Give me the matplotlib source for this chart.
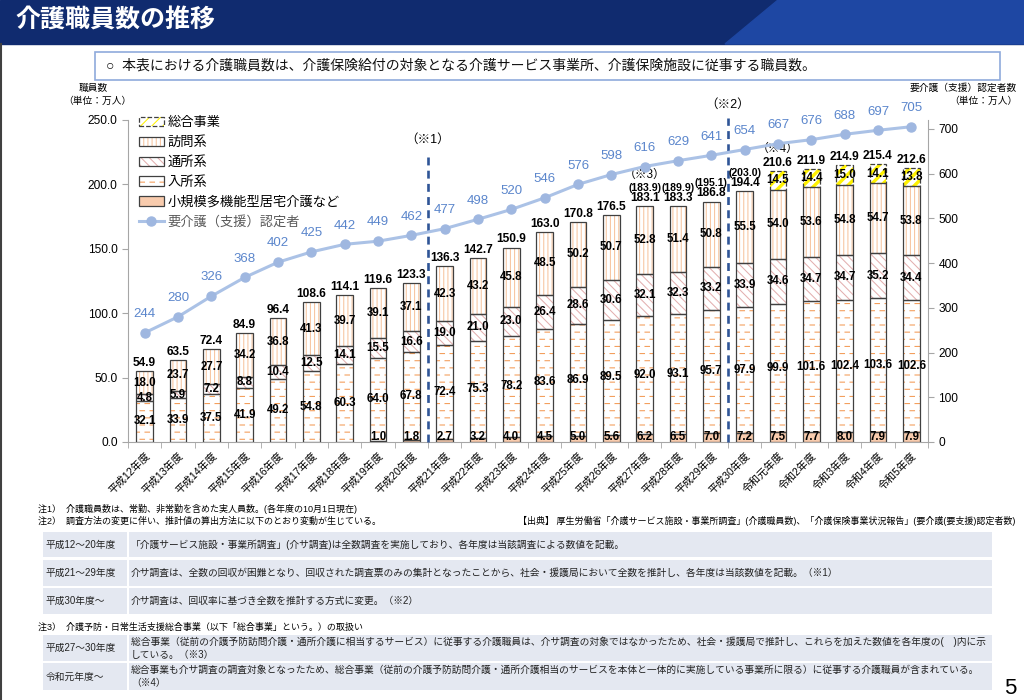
import warnings
import numpy as np
import matplotlib
matplotlib.use('Agg')
import matplotlib.pyplot as plt
import matplotlib.hatch as mhatch
from matplotlib.path import Path
from matplotlib.patches import Rectangle, Patch, Polygon
from matplotlib.lines import Line2D
from matplotlib.ticker import FormatStrFormatter

warnings.filterwarnings('ignore')

# ---- data -------------------------------------------------------------
years = ['平成12年度', '平成13年度', '平成14年度', '平成15年度', '平成16年度',
         '平成17年度', '平成18年度', '平成19年度', '平成20年度', '平成21年度',
         '平成22年度', '平成23年度', '平成24年度', '平成25年度', '平成26年度',
         '平成27年度', '平成28年度', '平成29年度', '平成30年度', '令和元年度',
         '令和2年度', '令和3年度', '令和4年度', '令和5年度']
small = [0, 0, 0, 0, 0, 0, 0, 1.0, 1.8, 2.7, 3.2, 4.0, 4.5, 5.0, 5.6, 6.2,
         6.5, 7.0, 7.2, 7.5, 7.7, 8.0, 7.9, 7.9]
nyusho = [32.1, 33.9, 37.5, 41.9, 49.2, 54.8, 60.3, 64.0, 67.8, 72.4, 75.3,
          78.2, 83.6, 86.9, 89.5, 92.0, 93.1, 95.7, 97.9, 99.9, 101.6, 102.4,
          103.6, 102.6]
tsusho = [4.8, 5.9, 7.2, 8.8, 10.4, 12.5, 14.1, 15.5, 16.6, 19.0, 21.0, 23.0,
          26.4, 28.6, 30.6, 32.1, 32.3, 33.2, 33.9, 34.6, 34.7, 34.7, 35.2, 34.4]
homon = [18.0, 23.7, 27.7, 34.2, 36.8, 41.3, 39.7, 39.1, 37.1, 42.3, 43.2,
         45.8, 48.5, 50.2, 50.7, 52.8, 51.4, 50.8, 55.5, 54.0, 53.6, 54.8,
         54.7, 53.8]
sogo = [0] * 19 + [14.5, 14.4, 15.0, 14.1, 13.8]
totals = [54.9, 63.5, 72.4, 84.9, 96.4, 108.6, 114.1, 119.6, 123.3, 136.3,
          142.7, 150.9, 163.0, 170.8, 176.5, 183.1, 183.3, 186.8, 194.4, 210.6,
          211.9, 214.9, 215.4, 212.6]
# totals incl. 総合事業 (平成27~30年度)
paren_idx = [15, 16, 17, 18]
paren_vals = ['(183.9)', '(189.9)', '(195.1)', '(203.0)']
ninteisha = [244, 280, 326, 368, 402, 425, 442, 449, 462, 477, 498, 520, 546,
             576, 598, 616, 629, 641, 654, 667, 676, 688, 697, 705]


# ---- custom hatch: staggered short dashes (入所系) -------------------------
class DashHatch(mhatch.HatchPatternBase):
    def __init__(self, hatch, density):
        self.rows = 14 if '_' in hatch else 0
        self.cols = 10
        self.num_vertices = self.rows * self.cols * 2

    def set_vertices_and_codes(self, vertices, codes):
        k = 0
        for r in range(self.rows):
            y = (r + 0.5) / self.rows
            shift = 0.5 if r % 2 else 0.0
            for c in range(self.cols):
                x0 = (c + shift) / self.cols
                vertices[k] = (x0, y)
                vertices[k + 1] = (x0 + 0.45 / self.cols, y)
                codes[k] = Path.MOVETO
                codes[k + 1] = Path.LINETO
                k += 2


mhatch._hatch_types.append(DashHatch)

plt.rcParams['font.family'] = ['Liberation Sans', 'Noto Sans CJK JP', 'DejaVu Sans']
plt.rcParams['hatch.linewidth'] = 0.75

W, H = 1024, 700
fig = plt.figure(figsize=(10.24, 7.0), dpi=100)


def fx(px):
    return px / W


def fy(py):
    return 1 - py / H


# ---- header / frame ---------------------------------------------------
fig.patches.append(Rectangle((0, fy(44)), 1, 44 / H, transform=fig.transFigure,
                             color='#102B6F', zorder=0))
fig.patches.append(Polygon([(fx(725), fy(44)), (fx(778), fy(0)), (1, 1), (1, fy(44))],
                           closed=True, transform=fig.transFigure,
                           color='#1E47A3', zorder=0))
fig.text(fx(15), fy(21), '介護職員数の推移', color='white', fontsize=18,
         fontweight='bold', ha='left', va='center')
fig.lines.append(Line2D([fx(1), fx(1)], [fy(44), 0], transform=fig.transFigure,
                        color='#404040', lw=1.5))
fig.patches.append(Rectangle((fx(95), fy(80)), fx(1000) - fx(95), 28 / H,
                             transform=fig.transFigure, fill=False,
                             edgecolor='#8FAADC', lw=1.2))
fig.text(fx(106), fy(66), '○  本表における介護職員数は、介護保険給付の対象となる介護サービス事業所、介護保険施設に従事する職員数。',
         fontsize=10, ha='left', va='center', color='#111111')

# ---- axes -------------------------------------------------------------
ax = fig.add_axes([fx(128), fy(442), 800 / W, 322 / H])
ax2 = ax.twinx()
n = len(years)
x = np.arange(n)
w = 0.5
edge = '#404040'

small_a = np.array(small)
nyu_a = np.array(nyusho)
tsu_a = np.array(tsusho)
hom_a = np.array(homon)
sog_a = np.array(sogo)

layers = [
    (small_a, '#F8CBAD', None, '#F8CBAD', '-'),
    (nyu_a, 'white', '_', '#F39A55', '-'),
    (tsu_a, 'white', '\\\\\\\\', '#E3AFAF', '-'),
    (hom_a, 'white', '||||', '#F7C49E', '-'),
    (sog_a, 'white', '///', '#FFF200', '--'),
]

bottom = np.zeros(n)
for vals, fc, hatch, hc, ls in layers:
    m = vals > 0
    hb = ax.bar(x[m], vals[m], w, bottom=bottom[m], color=fc, hatch=hatch,
                edgecolor=hc, linewidth=0, zorder=2)
    if hatch == '///':
        for p in hb:
            if hasattr(p, 'set_hatch_linewidth'):
                p.set_hatch_linewidth(2.4)
    ax.bar(x[m], vals[m], w, bottom=bottom[m], fill=False, edgecolor=edge,
           linewidth=0.9, linestyle=ls, zorder=3)
    bottom = bottom + vals

# segment labels
seg_font = dict(fontsize=8.3, fontweight='bold', ha='center', va='center',
                color='black', zorder=6)
base = np.zeros(n)
for vals in [small_a, nyu_a, tsu_a, hom_a, sog_a]:
    for i in range(n):
        if vals[i] > 0:
            yy = 3.8 if vals is small_a else base[i] + vals[i] / 2
            ax.text(x[i], yy, f'{vals[i]:.1f}', **seg_font)
    base = base + vals

# total labels
for i in range(n):
    ax.annotate(f'{totals[i]:.1f}', (x[i], bottom[i]), xytext=(0, 1.5),
                textcoords='offset points', ha='center', va='bottom',
                fontsize=8.6, fontweight='bold', zorder=6)
for i, s in zip(paren_idx, paren_vals):
    ax.annotate(s, (x[i], bottom[i]), xytext=(0, 9.5),
                textcoords='offset points', ha='center', va='bottom',
                fontsize=7.6, fontweight='bold', zorder=6)
ax.annotate('（※3）', (x[15], bottom[15]), xytext=(0, 18),
            textcoords='offset points', ha='center', va='bottom', fontsize=8.5)
ax.annotate('（※4）', (x[19], bottom[19]), xytext=(0, 11.5),
            textcoords='offset points', ha='center', va='bottom', fontsize=8.5)

# survey method change lines
ax.vlines(8.5, 0, 224, colors='#2F5597', linestyles=(0, (3, 2)), lw=1.9,
          clip_on=False, zorder=5)
ax.vlines(17.5, 0, 251.5, colors='#2F5597', linestyles=(0, (3, 2)), lw=1.9,
          clip_on=False, zorder=5)
ax.text(8.5, 234.5, '（※1）', ha='center', va='center', fontsize=9)
ax.text(17.5, 262, '（※2）', ha='center', va='center', fontsize=9)

ax.set_xlim(-0.5, n - 0.5)
ax.set_ylim(0, 250)
ax.set_yticks(np.arange(0, 251, 50))
ax.yaxis.set_major_formatter(FormatStrFormatter('%.1f'))
ax.set_xticks(x)
ax.set_xticklabels(years, rotation=45, ha='right', rotation_mode='anchor',
                   fontsize=7.6)
ax.set_xticks(np.arange(-0.5, n, 1), minor=True)
ax.tick_params(axis='x', which='major', length=0, pad=6)
ax.tick_params(axis='x', which='minor', length=4, color='#A6A6A6')
ax.tick_params(axis='y', length=4, color='#A6A6A6', labelsize=8.6)
for s in ['top', 'right']:
    ax.spines[s].set_visible(False)
for s in ['left', 'bottom']:
    ax.spines[s].set_color('#A6A6A6')

# ---- 要介護（支援）認定者 line ------------------------------------------------
ax2.plot(x, ninteisha, color='#ABC2E6', lw=2.2, marker='o', ms=6.5,
         mfc='#9FB7E0', mec='#9FB7E0', zorder=4)
for i in range(n):
    ax2.annotate(str(ninteisha[i]), (x[i], ninteisha[i]), xytext=(0, 13.5),
                 textcoords='offset points', ha='center', va='center',
                 fontsize=9.5, color='#5B86CC')
ax2.set_ylim(0, 720)
ax2.set_yticks(np.arange(0, 701, 100))
ax2.tick_params(axis='y', length=4, color='#A6A6A6', labelsize=8.6)
for s in ['top', 'left', 'bottom']:
    ax2.spines[s].set_visible(False)
ax2.spines['right'].set_color('#A6A6A6')

# legend
handles = [
    (Patch(facecolor='white', edgecolor='#FFF200', hatch='///', lw=0),
     Patch(fill=False, edgecolor=edge, lw=0.9, ls='--')),
    (Patch(facecolor='white', edgecolor='#F7C49E', hatch='||||', lw=0),
     Patch(fill=False, edgecolor=edge, lw=0.9)),
    (Patch(facecolor='white', edgecolor='#E3AFAF', hatch='\\\\\\\\', lw=0),
     Patch(fill=False, edgecolor=edge, lw=0.9)),
    (Patch(facecolor='white', edgecolor='#F39A55', hatch='_', lw=0),
     Patch(fill=False, edgecolor=edge, lw=0.9)),
    Patch(facecolor='#F8CBAD', edgecolor=edge, lw=0.9),
    Line2D([0], [0], color='#ABC2E6', lw=2.2, marker='o', ms=6.5,
           mfc='#9FB7E0', mec='#9FB7E0'),
]
labels = ['総合事業', '訪問系', '通所系', '入所系', '小規模多機能型居宅介護など',
          '要介護（支援）認定者']
leg = ax2.legend(handles, labels, loc='upper left',
                 bbox_to_anchor=(fx(132), fy(110)), bbox_transform=fig.transFigure,
                 frameon=False, fontsize=9.5, handlelength=1.9, handleheight=0.75,
                 handletextpad=0.3, labelspacing=0.55, borderpad=0)
leg.get_texts()[-1].set_color('#595959')

# axis titles
fig.text(fx(93), fy(88), '職員数', ha='center', va='center', fontsize=7)
fig.text(fx(97), fy(101), '（単位：万人）', ha='center', va='center', fontsize=7)
fig.text(fx(1017), fy(88), '要介護（支援）認定者数', ha='right', va='center', fontsize=7)
fig.text(fx(1017), fy(101), '（単位：万人）', ha='right', va='center', fontsize=7)

# ---- notes ------------------------------------------------------------
note_fs = 6.5
fig.text(fx(38), fy(509), '注1）  介護職員数は、常勤、非常勤を含めた実人員数。(各年度の10月1日現在)',
         fontsize=note_fs, va='center')
fig.text(fx(38), fy(521), '注2）  調査方法の変更に伴い、推計値の算出方法に以下のとおり変動が生じている。',
         fontsize=note_fs, va='center')
fig.text(fx(1015), fy(521),
         '【出典】 厚生労働省「介護サービス施設・事業所調査」(介護職員数)、「介護保険事業状況報告」(要介護(要支援)認定者数)',
         fontsize=note_fs, ha='right', va='center')
fig.text(fx(38), fy(627), '注3）  介護予防・日常生活支援総合事業（以下「総合事業」という。）の取扱い',
         fontsize=note_fs, va='center')

rows = [
    (532, 557, '平成12～20年度',
     '「介護サービス施設・事業所調査」(介サ調査)は全数調査を実施しており、各年度は当該調査による数値を記載。'),
    (560, 586, '平成21～29年度',
     '介サ調査は、全数の回収が困難となり、回収された調査票のみの集計となったことから、社会・援護局において全数を推計し、各年度は当該数値を記載。（※1）'),
    (588, 614, '平成30年度～',
     '介サ調査は、回収率に基づき全数を推計する方式に変更。（※2）'),
    (635, 661, '平成27～30年度',
     '総合事業（従前の介護予防訪問介護・通所介護に相当するサービス）に従事する介護職員は、介サ調査の対象ではなかったため、社会・援護局で推計し、これらを加えた数値を各年度の(　)内に示\nしている。（※3）'),
    (663, 690, '令和元年度～',
     '総合事業も介サ調査の調査対象となったため、総合事業（従前の介護予防訪問介護・通所介護相当のサービスを本体と一体的に実施している事業所に限る）に従事する介護職員が含まれている。\n（※4）'),
]
for top, bot, lab, txt in rows:
    fig.patches.append(Rectangle((fx(43), fy(bot)), fx(127) - fx(43), (bot - top) / H,
                                 transform=fig.transFigure, color='#E4E8F1', lw=0))
    fig.patches.append(Rectangle((fx(129), fy(bot)), fx(992) - fx(129), (bot - top) / H,
                                 transform=fig.transFigure, color='#E4E8F1', lw=0))
    ym = fy((top + bot) / 2)
    fig.text(fx(46), ym, lab, fontsize=7, va='center', color='#222222')
    fig.text(fx(131), ym, txt, fontsize=7, va='center', color='#222222',
             linespacing=1.35)

fig.text(fx(1010), fy(689), '5', fontsize=16, ha='center', va='center')

fig.savefig('out.png', dpi=100)
